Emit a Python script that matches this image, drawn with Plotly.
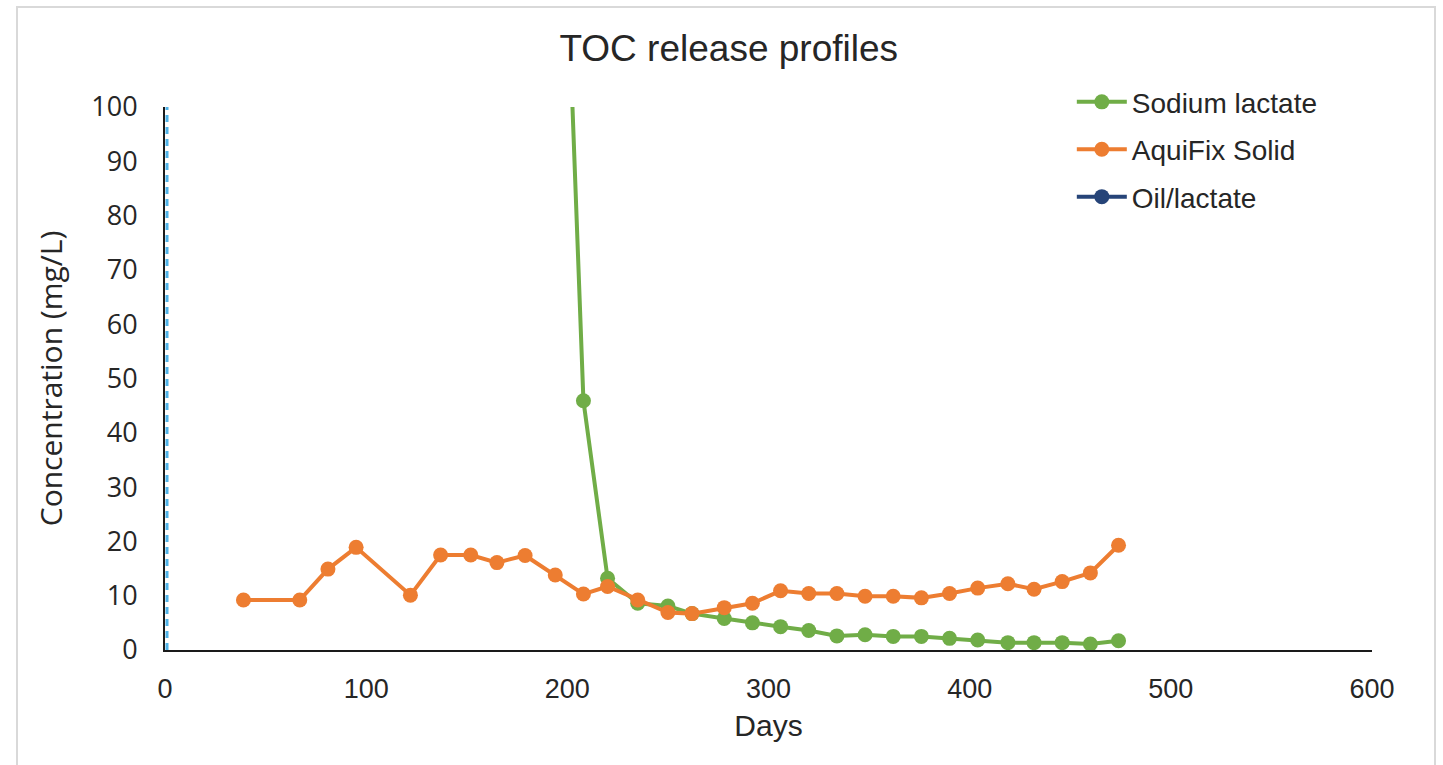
import plotly.graph_objects as go

# Sampling days and TOC concentrations (mg/L)
sodium_days = [194, 208, 220, 235, 250, 262, 278, 292, 306, 320, 334, 348, 362,
               376, 390, 404, 419, 432, 446, 460, 474]
sodium_toc = [185, 45.9, 13.2, 8.6, 8.1, 6.7, 5.8, 5.0, 4.3, 3.6, 2.6, 2.8, 2.5,
              2.5, 2.15, 1.85, 1.35, 1.35, 1.35, 1.1, 1.7]

aquifix_days = [39, 67, 81, 95, 122, 137, 152, 165, 179, 194, 208, 220, 235, 250,
                262, 278, 292, 306, 320, 334, 348, 362, 376, 390, 404, 419, 432,
                446, 460, 474]
aquifix_toc = [9.2, 9.2, 14.9, 18.9, 10.1, 17.5, 17.5, 16.1, 17.4, 13.8, 10.3,
               11.7, 9.2, 6.9, 6.7, 7.8, 8.6, 10.9, 10.4, 10.4, 9.9, 9.9, 9.6,
               10.4, 11.4, 12.2, 11.2, 12.6, 14.2, 19.3]

# No Oil/lactate reading falls inside the plotted window
oil_days = [None]
oil_toc = [None]

# Reference line at the start of the record
ref_days = [1, 1]
ref_toc = [0, 100]

x_ticks = [0, 100, 200, 300, 400, 500, 600]
y_ticks = [0, 10, 20, 30, 40, 50, 60, 70, 80, 90, 100]

SANS = "Liberation Sans, Arial, sans-serif"
OPEN = "Open Sans, Noto Sans, sans-serif"
INK = "#262626"

fig = go.Figure()

fig.add_trace(go.Scatter(
    x=ref_days, y=ref_toc, mode="lines", showlegend=False, hoverinfo="skip",
    line=dict(color="#4fb3e8", width=3, dash="7px,5px"),
))
fig.add_trace(go.Scatter(
    x=sodium_days, y=sodium_toc, mode="lines+markers", name="Sodium lactate",
    legendgroup="a",
    line=dict(color="#70ad47", width=4),
    marker=dict(color="#70ad47", size=15),
))
fig.add_trace(go.Scatter(
    x=aquifix_days, y=aquifix_toc, mode="lines+markers", name="AquiFix Solid",
    legendgroup="b",
    line=dict(color="#ed7d31", width=4),
    marker=dict(color="#ed7d31", size=15),
))
fig.add_trace(go.Scatter(
    x=oil_days, y=oil_toc, mode="lines+markers", name="Oil/lactate",
    legendgroup="c",
    line=dict(color="#264478", width=4),
    marker=dict(color="#264478", size=15),
))

fig.update_layout(
    width=1443, height=765,
    autosize=False,
    margin=dict(l=165, r=71, t=107, b=115),
    paper_bgcolor="white",
    plot_bgcolor="white",
    font=dict(family=SANS, color=INK),
    title=dict(
        text="TOC release profiles",
        x=0.505, xref="container", xanchor="center",
        y=0.937, yref="container", yanchor="middle",
        font=dict(size=37, family=SANS, color=INK),
    ),
    xaxis=dict(
        range=[0, 600], tickvals=x_ticks, ticktext=[str(v) for v in x_ticks],
        showgrid=False, zeroline=False,
        showline=True, linecolor="#1a1a1a", linewidth=2,
        ticks="", ticklabelstandoff=14,
        tickfont=dict(size=27, family=SANS, color=INK),
        title=dict(text="Days", standoff=12,
                   font=dict(size=30, family=SANS, color=INK)),
    ),
    yaxis=dict(
        range=[0, 100], tickvals=y_ticks, ticktext=[str(v) for v in y_ticks],
        showgrid=False, zeroline=False,
        showline=True, linecolor="#1a1a1a", linewidth=2,
        ticks="", ticklabelstandoff=20,
        tickfont=dict(size=27, family=OPEN, color=INK),
        title=dict(text="Concentration (mg/L)", standoff=20,
                   font=dict(size=30, family=OPEN, color=INK)),
    ),
    legend=dict(
        x=0.7513, xref="paper", xanchor="left",
        y=1.055, yref="paper", yanchor="top",
        bgcolor="rgba(0,0,0,0)",
        font=dict(size=28, family=SANS, color=INK),
        itemwidth=50,
        tracegroupgap=8,
    ),
    shapes=[dict(
        type="rect", xref="paper", yref="paper",
        x0=-0.1226, x1=1.0522, y0=-0.3, y1=1.184,
        line=dict(color="#d9d9d9", width=2), fillcolor="rgba(0,0,0,0)", layer="below",
    )],
)

fig.write_html("out.html")
